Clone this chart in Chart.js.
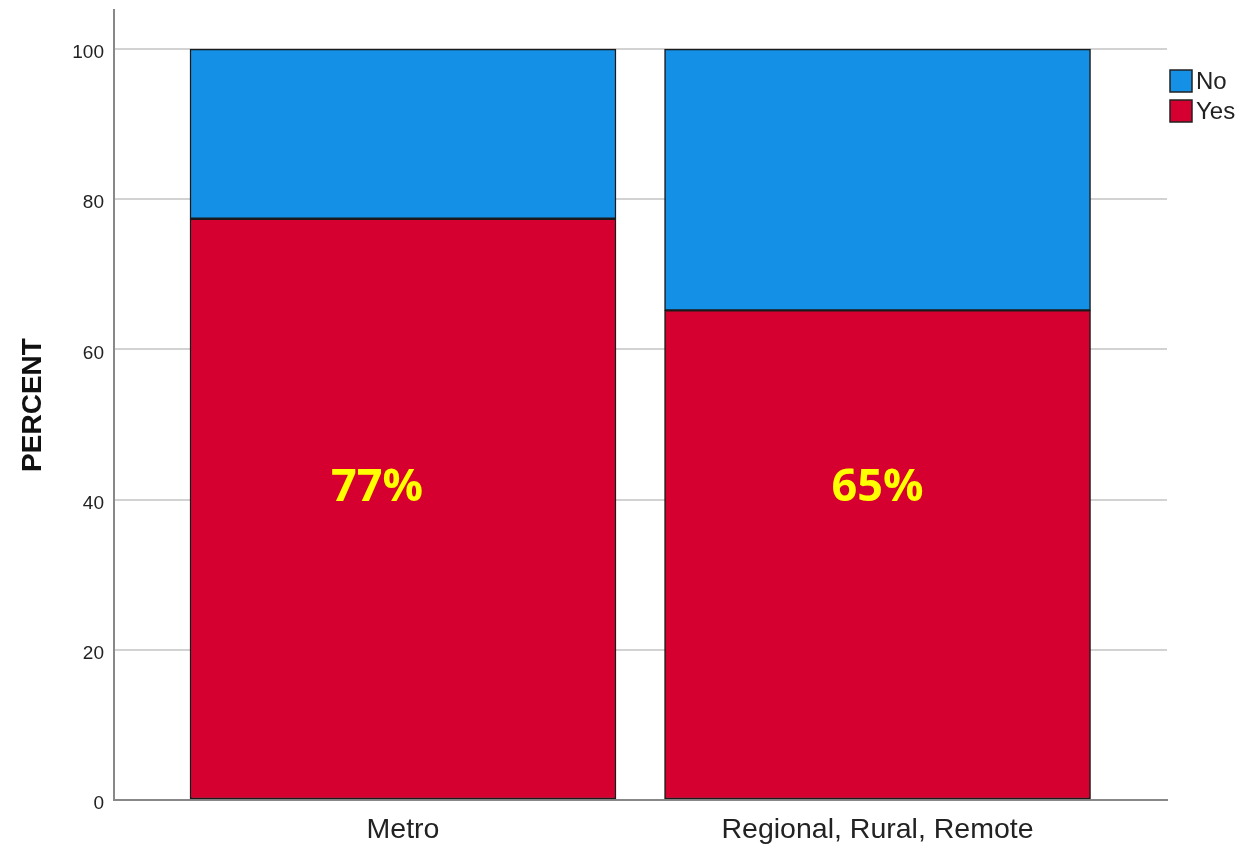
<!DOCTYPE html>
<html>
<head>
<meta charset="utf-8">
<script src="https://cdn.jsdelivr.net/npm/chart.js@4"></script>
<style>
  html, body { margin: 0; padding: 0; background: #fff; }
  #wrap { width: 1243px; height: 845px; }
</style>
</head>
<body>
<div id="wrap"><canvas id="chart" width="1243" height="845"></canvas></div>
<script>
// категории и значения (проценты)
const categories = ['Metro', 'Regional, Rural, Remote'];
const yesValues = [77.4, 65.2];
const noValues = [22.6, 34.8];
const yTicks = [0, 20, 40, 60, 80, 100];
const barLabels = ['77%', '65%'];

const blue = '#1490e6';
const red = '#d5002f';

// подписи процентов поверх красных столбцов (первая чуть левее, как в оригинале)
const labelShift = [-26, 0];
const labelPlugin = {
    id: 'barLabels',
    afterDatasetsDraw(chart) {
        const ctx = chart.ctx;
        const meta = chart.getDatasetMeta(0);
        const y = chart.scales.y.getPixelForValue(41.5);
        ctx.save();
        ctx.font = 'bold 45px "Open Sans", sans-serif';
        ctx.fillStyle = '#ffff00';
        ctx.textAlign = 'center';
        ctx.textBaseline = 'middle';
        meta.data.forEach((bar, i) => {
            ctx.fillText(barLabels[i], bar.x + labelShift[i], y);
        });
        ctx.restore();
    }
};

// легенда справа сверху (No над Yes)
const legendPlugin = {
    id: 'sideLegend',
    afterDraw(chart) {
        const ctx = chart.ctx;
        const items = [chart.data.datasets[1], chart.data.datasets[0]];
        ctx.save();
        ctx.font = '24px "Liberation Sans", Arial, sans-serif';
        ctx.textBaseline = 'middle';
        items.forEach((ds, i) => {
            const top = 70 + i * 30;
            ctx.fillStyle = ds.backgroundColor;
            ctx.fillRect(1170, top, 22, 22);
            ctx.strokeStyle = '#222';
            ctx.lineWidth = 1.5;
            ctx.strokeRect(1170, top, 22, 22);
            ctx.fillStyle = '#222';
            ctx.fillText(ds.label, 1196, top + 12);
        });
        ctx.restore();
    }
};

new Chart(document.getElementById('chart'), {
    type: 'bar',
    data: {
        datasets: [
            {
                label: 'Yes',
                data: categories.map((c, i) => ({ x: i + 1, y: yesValues[i] })),
                backgroundColor: red,
                borderColor: '#1a1a1a',
                borderWidth: 1.5,
                borderSkipped: false,
                barThickness: 426
            },
            {
                label: 'No',
                data: categories.map((c, i) => ({ x: i + 1, y: noValues[i] })),
                backgroundColor: blue,
                borderColor: '#1a1a1a',
                borderWidth: 1.5,
                borderSkipped: false,
                barThickness: 426
            }
        ]
    },
    options: {
        responsive: false,
        animation: false,
        layout: { padding: { top: 10, right: 76, left: 16, bottom: 0 } },
        plugins: {
            legend: { display: false },
            tooltip: { enabled: false }
        },
        scales: {
            x: {
                type: 'linear',
                stacked: true,
                offset: false,
                min: 0.391,
                max: 2.61,
                afterBuildTicks(axis) {
                    axis.ticks = categories.map((c, i) => ({ value: i + 1 }));
                },
                afterFit(axis) { axis.height = 45; },
                ticks: {
                    callback: (v) => categories[v - 1] || '',
                    font: { family: '"Liberation Sans", Arial, sans-serif', size: 28.5 },
                    color: '#222',
                    padding: 13,
                    maxRotation: 0
                },
                grid: { display: false, drawTicks: false },
                border: { display: true, color: '#888', width: 2 }
            },
            y: {
                stacked: true,
                min: 0,
                max: 105.2,
                afterBuildTicks(axis) {
                    axis.ticks = yTicks.map(v => ({ value: v }));
                },
                afterFit(axis) {
                    axis.width = 98;
                    // верхний отступ под подпись не нужен: 100 ниже края оси
                    axis.paddingTop = 0;
                },
                ticks: {
                    font: { family: '"Liberation Sans", Arial, sans-serif', size: 19 },
                    color: '#222',
                    padding: 10,
                    labelOffset: 4
                },
                grid: { color: '#d2d2d2', lineWidth: 2, drawTicks: false },
                border: { display: true, color: '#888', width: 2 },
                title: {
                    display: true,
                    text: 'PERCENT',
                    font: { family: '"Liberation Sans", Arial, sans-serif', size: 28, weight: 'bold' },
                    color: '#111',
                    padding: { top: 0, bottom: 0 }
                }
            }
        }
    },
    plugins: [labelPlugin, legendPlugin]
});
</script>
</body>
</html>
